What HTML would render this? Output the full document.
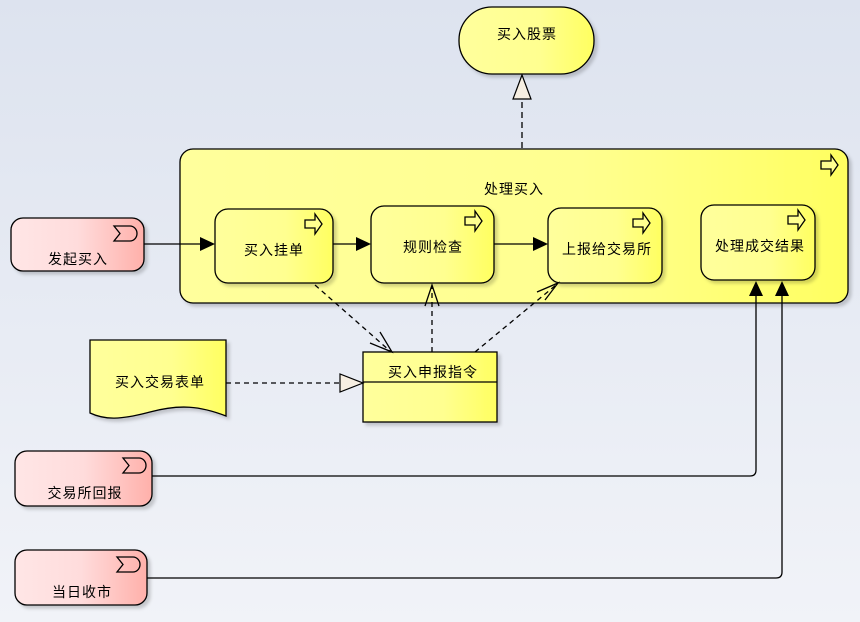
<!DOCTYPE html>
<html><head><meta charset="utf-8"><style>
html,body{margin:0;padding:0;width:860px;height:622px;overflow:hidden}
svg{display:block}
text{font-family:"Liberation Sans","Noto Sans CJK SC",sans-serif;font-size:14px;fill:#000;text-anchor:middle;letter-spacing:1px}
</style></head><body>
<svg width="860" height="622" viewBox="0 0 860 622" xmlns="http://www.w3.org/2000/svg">
<defs>
<linearGradient id="bg" x1="0" y1="0" x2="0" y2="1"><stop offset="0" stop-color="#dde3ef"/><stop offset="1" stop-color="#f1f3f8"/></linearGradient>
<linearGradient id="yel" x1="0" y1="0" x2="1" y2="0"><stop offset="0" stop-color="#ffff9c"/><stop offset="0.6" stop-color="#ffff90"/><stop offset="1" stop-color="#ffff60"/></linearGradient>
<linearGradient id="pink" x1="0" y1="0" x2="1" y2="0"><stop offset="0" stop-color="#ffe6e6"/><stop offset="0.5" stop-color="#ffdcdc"/><stop offset="1" stop-color="#ffb0aa"/></linearGradient>
<filter id="sh" x="-10%" y="-10%" width="130%" height="130%"><feDropShadow dx="3" dy="3" stdDeviation="1.5" flood-color="#000" flood-opacity="0.18"/></filter>
<g id="proc"><path d="M0,4 h10 v-6 l7,10 l-7,10 v-6 h-10 z" fill="#ffff90" stroke="#000" stroke-width="1.3"/></g>
<g id="evt"><path d="M0,0 h16 a7,7.5 0 0 1 0,15 h-16 l6,-7.5 z" fill="none" stroke="#000" stroke-width="1.3"/></g>
</defs>
<rect width="860" height="622" fill="url(#bg)"/>

<rect x="459" y="7" width="135" height="67" rx="33" fill="url(#yel)" stroke="#000" stroke-width="1.3" filter="url(#sh)"/>
<text x="527" y="39">买入股票</text>
<line x1="522" y1="148" x2="522" y2="99" stroke="#000" stroke-width="1.3" stroke-dasharray="6,4"/>
<path d="M522,75 L531,99 L513,99 Z" fill="#f7efe2" stroke="#000" stroke-width="1.2"/>

<rect x="180" y="149" width="668" height="154" rx="13" fill="url(#yel)" stroke="#000" stroke-width="1.3" filter="url(#sh)"/>
<use href="#proc" x="821" y="157"/>
<text x="514" y="194">处理买入</text>

<rect x="215" y="209" width="118" height="74" rx="13" fill="url(#yel)" stroke="#000" stroke-width="1.3" filter="url(#sh)"/>
<use href="#proc" x="305" y="216"/>
<text x="274" y="255">买入挂单</text>

<rect x="371" y="206" width="123" height="77" rx="13" fill="url(#yel)" stroke="#000" stroke-width="1.3" filter="url(#sh)"/>
<use href="#proc" x="465" y="213"/>
<text x="433" y="252">规则检查</text>

<rect x="548" y="208" width="114" height="75" rx="13" fill="url(#yel)" stroke="#000" stroke-width="1.3" filter="url(#sh)"/>
<use href="#proc" x="633" y="215"/>
<text x="607" y="254">上报给交易所</text>

<rect x="701" y="205" width="114" height="75" rx="13" fill="url(#yel)" stroke="#000" stroke-width="1.3" filter="url(#sh)"/>
<use href="#proc" x="788" y="212"/>
<text x="760" y="251">处理成交结果</text>

<rect x="11" y="218" width="133" height="53" rx="12" fill="url(#pink)" stroke="#000" stroke-width="1.3" filter="url(#sh)"/>
<use href="#evt" x="114" y="226"/>
<text x="78" y="264">发起买入</text>

<rect x="15" y="451" width="137" height="55" rx="12" fill="url(#pink)" stroke="#000" stroke-width="1.3" filter="url(#sh)"/>
<use href="#evt" x="123" y="458"/>
<text x="85" y="498">交易所回报</text>

<rect x="15" y="550" width="132" height="55" rx="12" fill="url(#pink)" stroke="#000" stroke-width="1.3" filter="url(#sh)"/>
<use href="#evt" x="117" y="557"/>
<text x="82" y="597">当日收市</text>

<g stroke="#000" stroke-width="1.3" fill="none">
<line x1="144" y1="244" x2="202" y2="244"/>
<line x1="333" y1="244" x2="358" y2="244"/>
<line x1="494" y1="244" x2="535" y2="244"/>
<path d="M152,476 H750 Q756,476 756,470 V295"/>
<path d="M147,578 H776 Q782,578 782,572 V295"/>
</g>
<g fill="#000">
<path d="M215,244 L200,237 L200,251 Z"/>
<path d="M371,244 L356,237 L356,251 Z"/>
<path d="M548,244 L533,237 L533,251 Z"/>
<path d="M756,281 L749,296 L763,296 Z"/>
<path d="M782,281 L775,296 L789,296 Z"/>
</g>

<path d="M90,340 H226 V416 C200,406 180,404 150,412 C120,420 105,420 90,413 Z" fill="url(#yel)" stroke="#000" stroke-width="1.3" filter="url(#sh)"/>
<text x="160" y="387">买入交易表单</text>

<rect x="363" y="352" width="134" height="70" fill="url(#yel)" stroke="#000" stroke-width="1.3" filter="url(#sh)"/>
<line x1="363" y1="382" x2="497" y2="382" stroke="#000" stroke-width="1.3"/>
<text x="433" y="377">买入申报指令</text>

<g stroke="#000" stroke-width="1.3" fill="none" stroke-dasharray="5,4">
<line x1="226" y1="383" x2="340" y2="383"/>
<line x1="315" y1="285" x2="390" y2="351"/>
<line x1="432" y1="352" x2="432" y2="287"/>
<line x1="475" y1="352" x2="556" y2="285"/>
</g>
<path d="M363,383 L340,374 L340,392 Z" fill="#f7efe2" stroke="#000" stroke-width="1.2"/>
<g stroke="#000" stroke-width="1.3" fill="none">
<path d="M370,343 L392,352 L380,332"/>
<path d="M425,306 L432,285 L439,306"/>
<path d="M537,292 L558,283 L545,300"/>
</g>
</svg>
</body></html>
